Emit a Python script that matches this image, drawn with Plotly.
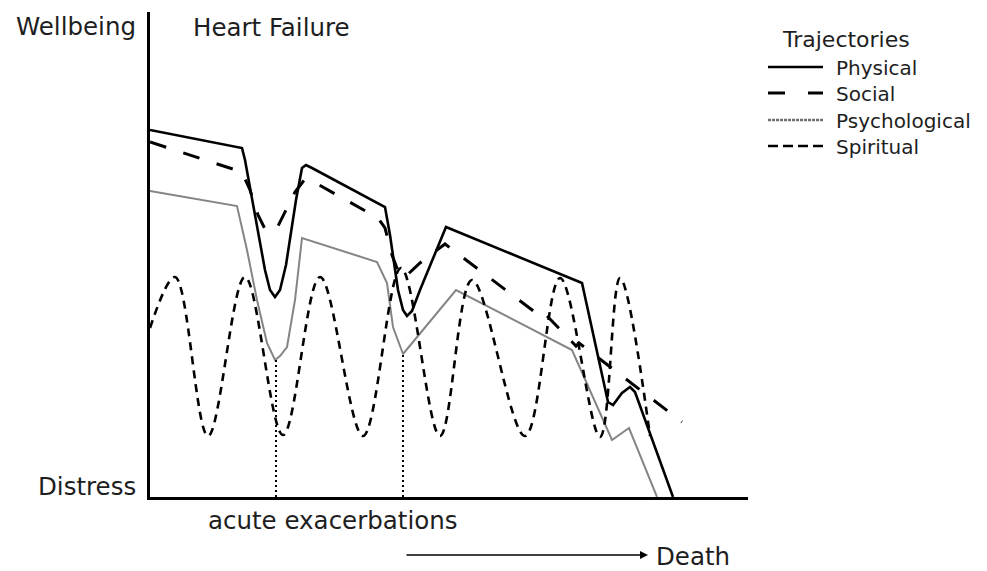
import plotly.graph_objects as go

# time axis (arbitrary units, left = diagnosis, right = death); wellbeing 0 = distress
phys_x = [0, 92, 95, 105, 115, 120, 125, 130, 136, 146, 152, 156, 162, 235, 240, 248, 253, 257, 262, 270, 296, 432, 458, 463, 472, 480, 485, 523]
phys_y = [367, 349, 337, 282, 227, 207, 200, 207, 232, 297, 329, 332, 329, 290, 262, 207, 187, 181, 186, 207, 270, 214, 95, 92, 104, 110, 105, 0]

soc_x = [0, 92, 100, 108, 115, 120, 127, 135, 145, 155, 162, 228, 235, 242, 250, 255, 270, 295, 394, 397, 426, 429, 532]
soc_y = [355, 325, 307, 282, 268, 265, 269, 285, 305, 318, 316, 279, 269, 242, 221, 220, 234, 253, 178, 181, 151, 154, 75]

psy_x = [0, 87, 97, 107, 117, 122, 125, 130, 137, 145, 152, 227, 237, 243, 253, 306, 422, 462, 479, 507]
psy_y = [306, 291, 247, 197, 154, 143, 137, 141, 150, 197, 259, 235, 214, 170, 143, 207, 147, 57, 69, 0]

spi_x = [0, 25, 58, 95, 133, 170, 213, 251, 290, 322, 375, 410, 450, 470, 500]
spi_y = [169, 220, 61, 220, 62, 220, 61, 229, 61, 217, 61, 219, 60, 219, 61]

exac_x = [126, 253]
exac_top = [137, 143]

legend_names = ["Physical", "Social", "Psychological", "Spiritual"]

X_MAX, Y_MAX = 598, 485
FONT = "DejaVu Sans"
TXT = "#1e1e1e"

styles = {
    "Physical": dict(color="black", width=2.6),
    "Social": dict(color="black", width=3, dash="17px,18px"),
    "Psychological": dict(color="#858585", width=2),
    "Spiritual": dict(color="black", width=2.6, dash="8px,6px"),
}

fig = go.Figure()
fig.add_trace(go.Scatter(x=phys_x, y=phys_y, mode="lines", name="Physical", line=styles["Physical"]))
fig.add_trace(go.Scatter(x=soc_x, y=soc_y, mode="lines", name="Social", line=styles["Social"]))
fig.add_trace(go.Scatter(x=psy_x, y=psy_y, mode="lines", name="Psychological", line=styles["Psychological"]))
fig.add_trace(go.Scatter(x=spi_x, y=spi_y, mode="lines", name="Spiritual",
                         line=dict(**styles["Spiritual"], shape="spline", smoothing=1)))
for xv, yt in zip(exac_x, exac_top):
    fig.add_trace(go.Scatter(x=[xv, xv], y=[0, yt], mode="lines", showlegend=False,
                             line=dict(color="black", width=2, dash="2px,3px")))

def px(xp):
    return (xp - 150) / X_MAX

def py(yp):
    return (497 - yp) / Y_MAX

anns = [
    dict(text="Wellbeing", x=px(138), y=py(26), xanchor="right"),
    dict(text="Heart Failure", x=px(191), y=py(28), xanchor="left"),
    dict(text="Distress", x=px(138), y=py(486), xanchor="right"),
    dict(text="acute exacerbations", x=px(206), y=py(520), xanchor="left"),
    dict(text="Death", x=px(654), y=py(556), xanchor="left"),
]
for a in anns:
    fig.add_annotation(xref="paper", yref="paper", yanchor="middle", showarrow=False,
                       font=dict(family=FONT, size=24.5, color=TXT), **a)

fig.add_annotation(xref="paper", yref="paper", x=px(648), y=py(555), ax=-243, ay=0,
                   axref="pixel", ayref="pixel", text="", showarrow=True,
                   arrowhead=2, arrowsize=1, arrowwidth=1.6, arrowcolor="black")

# legend (drawn as key lines + labels, like the original figure)
fig.add_annotation(xref="paper", yref="paper", x=px(780), y=py(39), xanchor="left", yanchor="middle",
                   showarrow=False, text="Trajectories", font=dict(family=FONT, size=22, color=TXT))
leg_y = [67, 93, 120, 146]
leg_dash = {"Physical": "solid", "Social": "17px,23px", "Psychological": "3px,1px", "Spiritual": "10px,5px"}
leg_color = {"Physical": "black", "Social": "black", "Psychological": "#707070", "Spiritual": "black"}
for name, yy in zip(legend_names, leg_y):
    st = styles[name]
    fig.add_shape(type="line", xref="paper", yref="paper", x0=px(768), x1=px(823), y0=py(yy), y1=py(yy),
                  line=dict(color=leg_color[name], width=st["width"] + (0.5 if name == "Psychological" else 0),
                            dash=leg_dash[name]))
    fig.add_annotation(xref="paper", yref="paper", x=px(834), y=py(yy + 1), xanchor="left", yanchor="middle",
                       showarrow=False, text=name, font=dict(family=FONT, size=20, color=TXT))

fig.update_layout(
    width=987, height=571,
    margin=dict(l=150, r=239, t=12, b=74),
    paper_bgcolor="white", plot_bgcolor="white",
    xaxis=dict(range=[0, X_MAX], showline=True, linecolor="black", linewidth=3,
               showgrid=False, zeroline=False, showticklabels=False, ticks=""),
    yaxis=dict(range=[0, Y_MAX], showline=True, linecolor="black", linewidth=3,
               showgrid=False, zeroline=False, showticklabels=False, ticks=""),
    showlegend=False,
)

fig.write_html("out.html", config={"displayModeBar": False},
               post_script="document.body.style.margin='0';")
